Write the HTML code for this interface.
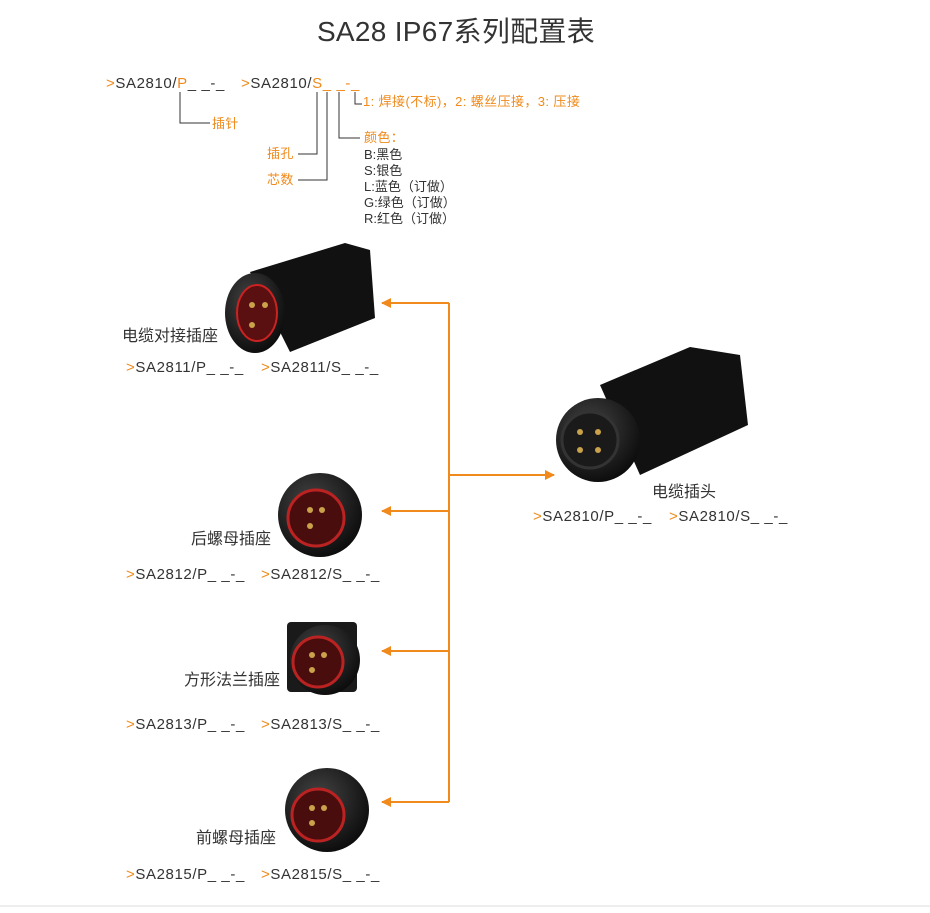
<!DOCTYPE html>
<html><head><meta charset="utf-8"><style>
body{margin:0;background:#fff;}
svg{display:block;font-family:"Liberation Sans","Noto Sans CJK SC",sans-serif;}
</style></head><body>
<svg width="930" height="913" viewBox="0 0 930 913" xmlns="http://www.w3.org/2000/svg">
<defs>
<marker id="a" markerWidth="10" markerHeight="10" refX="9" refY="5" orient="auto" markerUnits="userSpaceOnUse"><path d="M0,0 L10,5 L0,10 Z" fill="#f08a1c"/></marker>
<radialGradient id="g" cx="0.4" cy="0.35" r="0.7"><stop offset="0" stop-color="#444"/><stop offset="1" stop-color="#0a0a0a"/></radialGradient>
</defs>
<text x="456" y="41" font-size="28" fill="#333" text-anchor="middle" letter-spacing="0.3">SA28 IP67系列配置表</text>

<g font-size="15" fill="#333" letter-spacing="0.6">
<text x="106" y="88"><tspan fill="#f08a1c">&gt;</tspan>SA2810/<tspan fill="#f08a1c">P</tspan>_ _-_</text>
<text x="241" y="88"><tspan fill="#f08a1c">&gt;</tspan>SA2810/<tspan fill="#f08a1c">S_ _-_</tspan></text>
</g>
<g stroke="#333" fill="none" stroke-width="1">
<path d="M180,92 V123 H210"/>
<path d="M317,92 V154 H298"/>
<path d="M327,92 V180 H298"/>
<path d="M339,92 V138 H360"/>
<path d="M355,92 V104 H362"/>
</g>
<g font-size="13" fill="#f08a1c" letter-spacing="0.4">
<text x="363" y="106">1: 焊接(不标)，2: 螺丝压接，3: 压接</text>
<text x="212" y="128">插针</text>
<text x="267" y="158">插孔</text>
<text x="267" y="184">芯数</text>
<text x="364" y="142">颜色：</text>
</g>
<g font-size="13" fill="#333">
<text x="364" y="159">B:黑色</text>
<text x="364" y="175">S:银色</text>
<text x="364" y="191">L:蓝色（订做）</text>
<text x="364" y="207">G:绿色（订做）</text>
<text x="364" y="223">R:红色（订做）</text>
</g>

<g>
<path d="M250,272 L345,243 L370,250 L375,318 L290,352 Z" fill="#111"/>
<ellipse cx="255" cy="313" rx="30" ry="40" fill="url(#g)"/>
<ellipse cx="257" cy="313" rx="20" ry="28" fill="#5a1010" stroke="#c22" stroke-width="2"/>
<circle cx="252" cy="305" r="3" fill="#c9a24a"/><circle cx="265" cy="305" r="3" fill="#c9a24a"/><circle cx="252" cy="325" r="3" fill="#c9a24a"/>

<path d="M600,385 L690,347 L740,355 L748,425 L640,475 Z" fill="#111"/>
<circle cx="598" cy="440" r="42" fill="url(#g)"/>
<circle cx="590" cy="440" r="28" fill="#1a1a1a" stroke="#333" stroke-width="3"/>
<circle cx="580" cy="432" r="3" fill="#c9a24a"/><circle cx="598" cy="432" r="3" fill="#c9a24a"/><circle cx="580" cy="450" r="3" fill="#c9a24a"/><circle cx="598" cy="450" r="3" fill="#c9a24a"/>

<circle cx="320" cy="515" r="42" fill="url(#g)"/>
<circle cx="316" cy="518" r="28" fill="#4a0d0d" stroke="#b22" stroke-width="3"/>
<circle cx="310" cy="510" r="3" fill="#c9a24a"/><circle cx="322" cy="510" r="3" fill="#c9a24a"/><circle cx="310" cy="526" r="3" fill="#c9a24a"/>

<rect x="287" y="622" width="70" height="70" rx="4" fill="#1a1a1a"/>
<circle cx="325" cy="660" r="35" fill="url(#g)"/>
<circle cx="318" cy="662" r="25" fill="#4a0d0d" stroke="#b22" stroke-width="3"/>
<circle cx="312" cy="655" r="3" fill="#c9a24a"/><circle cx="324" cy="655" r="3" fill="#c9a24a"/><circle cx="312" cy="670" r="3" fill="#c9a24a"/>

<circle cx="327" cy="810" r="42" fill="url(#g)"/>
<circle cx="318" cy="815" r="26" fill="#4a0d0d" stroke="#b22" stroke-width="3"/>
<circle cx="312" cy="808" r="3" fill="#c9a24a"/><circle cx="324" cy="808" r="3" fill="#c9a24a"/><circle cx="312" cy="823" r="3" fill="#c9a24a"/>
</g>

<g stroke="#f08a1c" stroke-width="2" fill="none">
<path d="M449,303 V802"/>
<path d="M449,303 H382" marker-end="url(#a)"/>
<path d="M449,511 H382" marker-end="url(#a)"/>
<path d="M449,651 H382" marker-end="url(#a)"/>
<path d="M449,802 H382" marker-end="url(#a)"/>
<path d="M449,475 H554" marker-end="url(#a)"/>
</g>

<g font-size="16" fill="#333">
<text x="122" y="341">电缆对接插座</text>
<text x="652" y="497">电缆插头</text>
<text x="191" y="544">后螺母插座</text>
<text x="184" y="685">方形法兰插座</text>
<text x="196" y="843">前螺母插座</text>
</g>
<g font-size="15" fill="#333" letter-spacing="0.6">
<text x="126" y="372"><tspan fill="#f08a1c">&gt;</tspan>SA2811/P_ _-_</text>
<text x="261" y="372"><tspan fill="#f08a1c">&gt;</tspan>SA2811/S_ _-_</text>
<text x="533" y="521"><tspan fill="#f08a1c">&gt;</tspan>SA2810/P_ _-_</text>
<text x="669" y="521"><tspan fill="#f08a1c">&gt;</tspan>SA2810/S_ _-_</text>
<text x="126" y="579"><tspan fill="#f08a1c">&gt;</tspan>SA2812/P_ _-_</text>
<text x="261" y="579"><tspan fill="#f08a1c">&gt;</tspan>SA2812/S_ _-_</text>
<text x="126" y="729"><tspan fill="#f08a1c">&gt;</tspan>SA2813/P_ _-_</text>
<text x="261" y="729"><tspan fill="#f08a1c">&gt;</tspan>SA2813/S_ _-_</text>
<text x="126" y="879"><tspan fill="#f08a1c">&gt;</tspan>SA2815/P_ _-_</text>
<text x="261" y="879"><tspan fill="#f08a1c">&gt;</tspan>SA2815/S_ _-_</text>
</g>
<line x1="0" y1="906" x2="930" y2="906" stroke="#ddd" stroke-width="1"/>
</svg>
</body></html>
